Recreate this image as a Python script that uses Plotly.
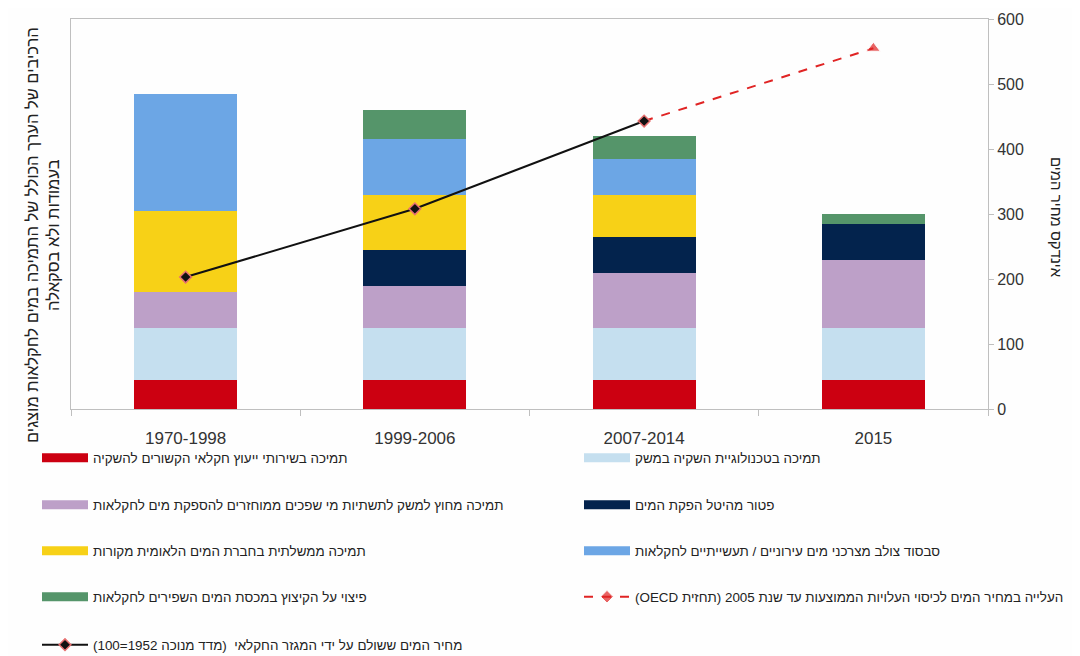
import plotly.graph_objects as go

categories = ["1970-1998", "1999-2006", "2007-2014", "2015"]

# Stacked bar components (bottom to top), in right-axis units (not to scale)
advisory = [45, 45, 45, 45]
irrigation_tech = [80, 80, 80, 80]
treated_wastewater = [55, 65, 85, 105]
levy_exemption = [0, 55, 55, 55]
mekorot_support = [125, 85, 65, 0]
cross_subsidy = [180, 85, 55, 0]
quota_cut_comp = [0, 45, 35, 15]

# Water price index (1952=100)
price_paid = [203, 308, 443, None]
oecd_forecast = [None, None, 443, 555]

bar_series = [
    ("תמיכה בשירותי ייעוץ חקלאי הקשורים להשקיה", advisory, "#CC0011"),
    ("תמיכה בטכנולוגיית השקיה במשק", irrigation_tech, "#C5DFEF"),
    ("תמיכה מחוץ למשק לתשתיות מי שפכים ממוחזרים להספקת מים לחקלאות", treated_wastewater, "#BDA0C8"),
    ("פטור מהיטל הפקת המים", levy_exemption, "#03234D"),
    ("תמיכה ממשלתית בחברת המים הלאומית מקורות", mekorot_support, "#F7D117"),
    ("סבסוד צולב מצרכני מים עירוניים / תעשייתיים לחקלאות", cross_subsidy, "#6CA6E5"),
    ("פיצוי על הקיצוץ במכסת המים השפירים לחקלאות", quota_cut_comp, "#55956A"),
]
oecd_name = "העלייה במחיר המים לכיסוי העלויות הממוצעות עד שנת 2005 (תחזית OECD)"
paid_name = "מחיר המים ששולם על ידי המגזר החקלאי  (מדד מנוכה 1952=100)"

def rtl(s):
    return "\u202b" + s + "\u202c"

# legend slot for each entry: (column, row)
slots = [(0, 0), (1, 0), (0, 1), (1, 1), (0, 2), (1, 2), (0, 3), (1, 3), (0, 4)]
legend_keys = ["legend"] + [f"legend{i}" for i in range(2, 10)]

fig = go.Figure()

for name, vals, color in bar_series:
    fig.add_trace(go.Bar(
        x=categories, y=vals, name=name, marker=dict(color=color, line=dict(width=0)),
        showlegend=False, yaxis="y",
    ))

# legend entries for the bar series (wide swatches)
for i, (name, vals, color) in enumerate(bar_series):
    fig.add_trace(go.Scatter(
        x=[None], y=[None], mode="lines", name=rtl(name),
        line=dict(color=color, width=9), legend=legend_keys[i], yaxis="y2", hoverinfo="skip",
    ))

fig.add_trace(go.Scatter(
    x=categories, y=oecd_forecast, mode="lines+markers", yaxis="y2",
    name=rtl(oecd_name),
    line=dict(color="#E02424", width=2, dash="dash"),
    marker=dict(symbol=["diamond", "diamond", "diamond", "triangle-up"],
                size=[9, 9, 9, 12], color="#E02424"),
    legend=legend_keys[7],
))
fig.add_trace(go.Scatter(
    x=categories, y=price_paid, mode="lines+markers", yaxis="y2",
    name=rtl(paid_name),
    line=dict(color="#111111", width=2),
    marker=dict(symbol="diamond", size=9, color="#111111", line=dict(color="#E87070", width=1.5)),
    legend=legend_keys[8],
))

FONT = "Liberation Sans, Arial, DejaVu Sans, sans-serif"
axis_col = "#BFBFBF"

# page body adds an 8px offset; plot area on screen is x 71..988, y 19..409
def px_y(py):
    return (409 - py) / 390.0

def px_x(px):
    return (px - 71) / 917.0

legend_common = dict(
    orientation="v", xanchor="left", yanchor="middle", itemwidth=46,
    font=dict(family=FONT, size=13.4, color="#222222"),
    bgcolor="rgba(0,0,0,0)", borderwidth=0, itemclick=False, itemdoubleclick=False,
)
legend_rows = [458, 505, 551, 597, 645]
legend_cols = [37, 579]
layout_legends = {}
for key, (c, r) in zip(legend_keys, slots):
    layout_legends[key] = dict(legend_common, x=px_x(legend_cols[c]), y=px_y(legend_rows[r]))

fig.update_layout(
    width=1072, height=648,
    margin=dict(l=63, r=92, t=11, b=247, autoexpand=False),
    paper_bgcolor="#FEFEFE", plot_bgcolor="#FEFEFE",
    barmode="stack", bargap=0.55,
    font=dict(family=FONT, color="#333333"),
    showlegend=True,
    xaxis=dict(
        type="category", showgrid=False, showline=True, linecolor=axis_col, linewidth=1,
        tickfont=dict(size=17, color="#333333", family=FONT),
        mirror=True, ticklabelstandoff=14,
        tickson="boundaries", ticks="outside", ticklen=6, tickcolor=axis_col,
    ),
    yaxis=dict(
        range=[0, 600], showgrid=False, showticklabels=False, ticks="",
        showline=True, linecolor=axis_col, linewidth=1, zeroline=False,
    ),
    yaxis2=dict(
        range=[0, 600], overlaying="y", side="right", showgrid=False,
        showline=True, linecolor=axis_col, linewidth=1, zeroline=False,
        ticks="outside", ticklen=5, tickcolor=axis_col, dtick=100,
        tickfont=dict(size=16, color="#333333", family=FONT),
    ),
    annotations=[
        dict(text="הרכיבים של הערך הכולל של התמיכה במים לחקלאות מוצגים<br>בעמודות ולא בסקאלה",
             xref="paper", yref="paper", x=px_x(42), y=px_y(235), xanchor="center", yanchor="middle",
             textangle=-90, showarrow=False, font=dict(size=16.5, color="#222222", family=FONT)),
        dict(text="אינדקס מחיר המים",
             xref="paper", yref="paper", x=px_x(1057), y=px_y(217), xanchor="center", yanchor="middle",
             textangle=90, showarrow=False, font=dict(size=15, color="#222222", family=FONT)),
    ],
    **layout_legends,
)

fig.write_html("out.html")
